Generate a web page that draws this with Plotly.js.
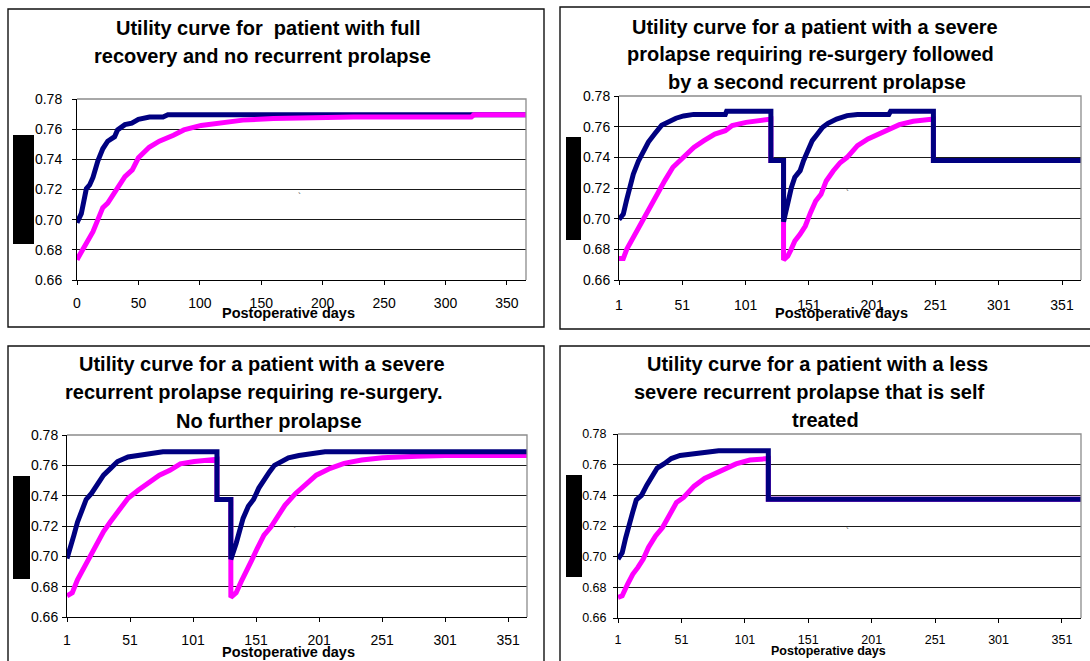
<!DOCTYPE html>
<html>
<head>
<meta charset="utf-8">
<script src="https://cdn.plot.ly/plotly-3.0.1.min.js"></script>
<style>
  html, body { margin: 0; padding: 0; background: #ffffff; }
  #chart { width: 1090px; height: 661px; }
</style>
</head>
<body>
<div id="chart"></div>
<script>
// ---------------- DATA ----------------
const xTicksA = [0, 50, 100, 150, 200, 250, 300, 350];
const xTicksB = [1, 51, 101, 151, 201, 251, 301, 351];
const yTicks = [0.66, 0.68, 0.70, 0.72, 0.74, 0.76, 0.78];
const xAxisTitle = "Postoperative days";

// Panel 1: full recovery, no recurrent prolapse
const p1Title = ["Utility curve for \u00a0patient with full", "recovery and no recurrent prolapse"];
const p1NavyDays = [0, 3.5, 7.6, 10.3, 13, 17, 21, 25, 30.6, 33, 39, 44.6, 50, 59, 70, 74, 365.5];
const p1NavyVals = [0.698, 0.704, 0.7205, 0.723, 0.728, 0.739, 0.747, 0.752, 0.755, 0.7595, 0.763, 0.764, 0.7665, 0.768, 0.768, 0.7695, 0.7695];
const p1PinkDays = [0, 4.9, 9, 13, 17, 21, 25, 29, 34.7, 39, 45, 50, 58.8, 67, 78.5, 87, 101, 118, 135, 160, 225, 321, 323, 365.5];
const p1PinkVals = [0.6735, 0.681, 0.686, 0.692, 0.700, 0.708, 0.711, 0.716, 0.722, 0.7285, 0.733, 0.741, 0.748, 0.752, 0.756, 0.7595, 0.7625, 0.7645, 0.766, 0.767, 0.768, 0.768, 0.7695, 0.7695];

// Panel 2: severe prolapse, re-surgery, then second recurrent prolapse
const p2Title = ["Utility curve for a patient with a severe", "prolapse requiring re-surgery followed", "by a second recurrent prolapse"];
const p2NavyDays = [1, 4.4, 7.1, 9.7, 12.3, 16.3, 20.2, 24.2, 29.4, 34.7, 46, 52, 60, 85, 86, 121, 121, 131, 131, 134.4, 137.2, 139.9, 144.1, 146.8, 150.9, 153.7, 157.8, 161.9, 166.1, 172.9, 181.2, 189.4, 214.2, 215.6, 249.4, 249.4, 366];
const p2NavyVals = [0.6995, 0.703, 0.7125, 0.722, 0.729, 0.7375, 0.743, 0.750, 0.7555, 0.761, 0.7655, 0.767, 0.768, 0.768, 0.770, 0.770, 0.738, 0.738, 0.698, 0.7117, 0.7204, 0.727, 0.7313, 0.7378, 0.7465, 0.7509, 0.7552, 0.7596, 0.7622, 0.765, 0.7672, 0.768, 0.768, 0.770, 0.770, 0.738, 0.738];
const p2PinkDays = [1, 4.4, 7.1, 11.1, 15, 19, 23, 28.1, 33.4, 37.3, 43.6, 51.9, 60.1, 68.4, 76.7, 85, 90.4, 101.4, 117.9, 121, 121, 131, 131, 134.4, 137, 139.9, 144, 148.2, 152.3, 156.4, 160.6, 164.7, 170.2, 175.7, 181.2, 189.4, 197.7, 205.9, 214.2, 222.5, 233.5, 247.2, 249.4, 249.4, 366];
const p2PinkVals = [0.674, 0.674, 0.680, 0.686, 0.6915, 0.6985, 0.705, 0.7125, 0.720, 0.725, 0.7335, 0.740, 0.7465, 0.751, 0.7552, 0.7574, 0.7607, 0.7628, 0.765, 0.765, 0.738, 0.738, 0.673, 0.6757, 0.680, 0.6854, 0.6898, 0.6952, 0.7039, 0.7115, 0.7159, 0.7246, 0.7311, 0.7365, 0.740, 0.7476, 0.752, 0.7552, 0.7585, 0.7613, 0.7635, 0.765, 0.765, 0.738, 0.738];

// Panel 3: severe recurrent prolapse requiring re-surgery, no further prolapse
const p3Title = ["Utility curve for a patient with a severe", "recurrent prolapse requiring re-surgery.", "No further prolapse"];
const p3NavyDays = [1, 3.8, 6.5, 9.3, 13.5, 16.2, 20.4, 24.5, 30, 35.6, 41.1, 49.4, 57.7, 68.8, 77.1, 120, 120, 131, 131, 135.2, 138, 140.7, 144.9, 149, 153.2, 157.3, 161.5, 165.6, 171.2, 176.7, 185, 196, 205.7, 366];
const p3NavyVals = [0.6985, 0.7055, 0.714, 0.7225, 0.7312, 0.7375, 0.7415, 0.747, 0.7535, 0.758, 0.7625, 0.7655, 0.7665, 0.768, 0.769, 0.769, 0.7375, 0.7375, 0.698, 0.7085, 0.7175, 0.725, 0.733, 0.7375, 0.745, 0.751, 0.7555, 0.760, 0.763, 0.765, 0.7665, 0.768, 0.769, 0.769];
const p3PinkDays = [1, 5.2, 9.3, 13.5, 19, 24.5, 30, 35.6, 42.5, 49.4, 57.7, 66, 74.3, 82.6, 90.9, 102, 115.8, 120, 120, 131, 131, 135.2, 139.3, 143.5, 147.6, 151.8, 157.3, 162.9, 168.4, 173.9, 182.2, 190.5, 198.8, 209.9, 220.9, 234.8, 251.4, 279, 301.2, 366];
const p3PinkVals = [0.674, 0.676, 0.6845, 0.6912, 0.700, 0.7087, 0.7164, 0.723, 0.7306, 0.7383, 0.7437, 0.749, 0.7535, 0.7567, 0.761, 0.7625, 0.764, 0.764, 0.7375, 0.7375, 0.673, 0.676, 0.6835, 0.690, 0.6975, 0.705, 0.714, 0.7195, 0.7272, 0.7336, 0.7413, 0.7476, 0.7535, 0.758, 0.7613, 0.7635, 0.765, 0.766, 0.7665, 0.7665];

// Panel 4: less severe recurrent prolapse, self treated
const p4Title = ["Utility curve for a patient with a less", "severe recurrent prolapse that is self", "treated"];
const p4NavyDays = [1, 4.3, 7.1, 9.8, 12.6, 15.4, 19.5, 23.7, 27.8, 31.9, 37.5, 43, 49.9, 61, 77.5, 80.3, 119.5, 119.5, 366];
const p4NavyVals = [0.6985, 0.7025, 0.7125, 0.7216, 0.729, 0.737, 0.740, 0.7466, 0.7515, 0.7578, 0.7606, 0.764, 0.766, 0.767, 0.768, 0.769, 0.769, 0.7375, 0.7375];
const p4PinkDays = [1, 4.3, 8.5, 12.6, 16.7, 20.9, 25, 30.6, 36.1, 41.6, 47.1, 52.7, 61, 69.2, 77.5, 85.8, 94, 105, 117.6, 119.5, 119.5, 366];
const p4PinkVals = [0.6735, 0.6745, 0.682, 0.6885, 0.693, 0.6985, 0.706, 0.7135, 0.719, 0.7265, 0.7353, 0.7386, 0.746, 0.751, 0.754, 0.7575, 0.7605, 0.763, 0.764, 0.764, 0.7375, 0.7375];

// ---------------- STYLE / LAYOUT ----------------
const W = 1090, H = 661;
const NAVY = "#000080", PINK = "#ff00ff";
const FONT = "Liberation Sans, Arial, Helvetica, sans-serif";
const fx = p => p / W;
const fy = p => 1 - p / H;

const panels = [
  { id: "", navy: [p1NavyDays, p1NavyVals], pink: [p1PinkDays, p1PinkVals], pinkOnTop: true,
    plot: [77, 526, 99, 280], xr: [0, 365.5], ticks: xTicksA, tf: 14, ysoff: 7, xsoff: 6,
    frame: [8, 544, 9, 327], box: [13, 34, 135, 244],
    title: p1Title, tx: [268, 262], ty: [28, 56], tsize: 20,
    axt: [288, 313, 14.5], mark: [299, 196] },
  { id: "2", navy: [p2NavyDays, p2NavyVals], pink: [p2PinkDays, p2PinkVals], pinkOnTop: false,
    plot: [619, 1081, 96, 280], xr: [1, 366], ticks: xTicksB, tf: 14, ysoff: 1, xsoff: 8,
    frame: [560, 1095, 7, 329], box: [566, 581, 137, 240],
    title: p2Title, tx: [815, 810, 817], ty: [27, 54, 82], tsize: 20,
    axt: [841, 313, 14.5], mark: [847, 193] },
  { id: "3", navy: [p3NavyDays, p3NavyVals], pink: [p3PinkDays, p3PinkVals], pinkOnTop: false,
    plot: [67, 527, 435, 617], xr: [1, 366], ticks: xTicksB, tf: 14, ysoff: 1, xsoff: 6,
    frame: [8, 544, 346, 670], box: [13, 30, 476, 579],
    title: p3Title, tx: [262, 254, 269], ty: [364, 392, 421], tsize: 20,
    axt: [288, 652, 14.5], mark: [294, 530] },
  { id: "4", navy: [p4NavyDays, p4NavyVals], pink: [p4PinkDays, p4PinkVals], pinkOnTop: false,
    plot: [618, 1081, 434, 618], xr: [1, 366], ticks: xTicksB, tf: 12.5, ysoff: 4, xsoff: 6,
    frame: [560, 1095, 346, 670], box: [566, 582, 475, 577],
    title: p4Title, tx: [817, 809, 825], ty: [364, 392, 420], tsize: 20,
    axt: [828, 651, 12.5], mark: [847, 531] }
];

const traces = [];
const layout = {
  width: W, height: H,
  margin: { l: 0, r: 0, t: 0, b: 0, pad: 0 },
  paper_bgcolor: "#ffffff", plot_bgcolor: "#ffffff",
  showlegend: false, hovermode: false,
  font: { family: FONT, color: "#000000" },
  shapes: [], annotations: []
};

panels.forEach(p => {
  const xa = "x" + p.id, ya = "y" + p.id;
  const navyT = { x: p.navy[0], y: p.navy[1], xaxis: xa, yaxis: ya, type: "scatter", mode: "lines",
                  line: { color: NAVY, width: 5 }, hoverinfo: "skip" };
  const pinkT = { x: p.pink[0], y: p.pink[1], xaxis: xa, yaxis: ya, type: "scatter", mode: "lines",
                  line: { color: PINK, width: 5 }, hoverinfo: "skip" };
  if (p.pinkOnTop) { traces.push(navyT, pinkT); } else { traces.push(pinkT, navyT); }

  const [l, r, t, b] = p.plot;
  layout["xaxis" + p.id] = {
    domain: [fx(l), fx(r)], anchor: ya, range: p.xr, fixedrange: true,
    tickmode: "array", tickvals: p.ticks, ticktext: p.ticks.map(String),
    ticks: "outside", ticklen: 4, tickwidth: 1, tickcolor: "#000",
    showline: true, linecolor: "#000", linewidth: 1,
    showgrid: false, zeroline: false,
    tickfont: { family: FONT, size: p.tf, color: "#000" },
    ticklabelstandoff: p.xsoff
  };
  layout["yaxis" + p.id] = {
    domain: [fy(b), fy(t)], anchor: xa, range: [0.66, 0.78], fixedrange: true,
    tickmode: "array", tickvals: yTicks, ticktext: yTicks.map(v => v.toFixed(2)),
    ticks: "outside", ticklen: 4, tickwidth: 1, tickcolor: "#000",
    showline: true, linecolor: "#000", linewidth: 1,
    showgrid: true, gridcolor: "#1a1a1a", gridwidth: 1, zeroline: false,
    tickfont: { family: FONT, size: p.tf, color: "#000" },
    ticklabelstandoff: p.ysoff
  };

  // gray plot-area border (top & right)
  layout.shapes.push({ type: "path", xref: "paper", yref: "paper", layer: "above",
    path: `M ${fx(l)} ${fy(t)} L ${fx(r)} ${fy(t)} L ${fx(r)} ${fy(b)}`,
    line: { color: "#8c8c8c", width: 1.3 } });
  // chart frame
  const [fl, fr, ft, fb] = p.frame;
  layout.shapes.push({ type: "rect", xref: "paper", yref: "paper", layer: "above",
    x0: fx(fl), x1: fx(fr), y0: fy(fb), y1: fy(ft), line: { color: "#111", width: 1.4 } });
  // black redaction box
  const [bl, br, bt, bb] = p.box;
  layout.shapes.push({ type: "rect", xref: "paper", yref: "paper", layer: "above",
    x0: fx(bl), x1: fx(br), y0: fy(bb), y1: fy(bt), fillcolor: "#000", line: { width: 0 } });

  // title lines
  p.title.forEach((txt, i) => {
    layout.annotations.push({ text: txt, xref: "paper", yref: "paper",
      x: fx(p.tx[i]), y: fy(p.ty[i]), xanchor: "center", yanchor: "middle", showarrow: false,
      font: { family: FONT, size: p.tsize, weight: 700, color: "#000" } });
  });
  // x axis title (overlaps the tick labels, as in the reference)
  layout.annotations.push({ text: xAxisTitle, xref: "paper", yref: "paper",
    x: fx(p.axt[0]), y: fy(p.axt[1]), xanchor: "center", yanchor: "middle", showarrow: false,
    font: { family: FONT, size: p.axt[2], weight: 700, color: "#000" } });
  // small stray mark present in the reference
  layout.annotations.push({ text: "`", xref: "paper", yref: "paper",
    x: fx(p.mark[0]), y: fy(p.mark[1]), xanchor: "center", yanchor: "middle", showarrow: false,
    font: { family: FONT, size: 9, color: "#333" } });
});

Plotly.newPlot("chart", traces, layout, { staticPlot: true, displayModeBar: false });
</script>
</body>
</html>
